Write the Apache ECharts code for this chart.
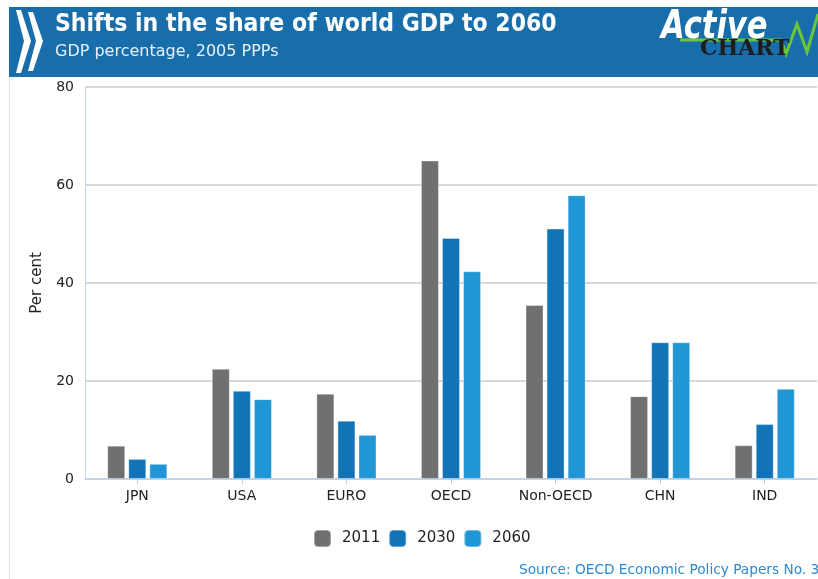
<!DOCTYPE html>
<html>
<head>
<meta charset="utf-8">
<script src="https://cdn.jsdelivr.net/npm/echarts@6/dist/echarts.min.js"></script>
<style>
html,body{margin:0;padding:0;background:#fff;}
#chart{width:818px;height:579px;}
</style>
</head>
<body>
<div id="chart"></div>
<script>
var categories = ['JPN', 'USA', 'EURO', 'OECD', 'Non-OECD', 'CHN', 'IND'];
var seriesNames = ['2011', '2030', '2060'];
var values2011 = [6.8, 22.5, 17.4, 65.0, 35.5, 16.9, 6.9];
var values2030 = [4.1, 18.0, 11.9, 49.2, 51.1, 27.9, 11.2];
var values2060 = [3.1, 16.3, 9.0, 42.4, 57.9, 27.9, 18.4];
var yTicks = [0, 20, 40, 60, 80];
var colors = ['#707070', '#1174b7', '#2196d4'];

var chart = echarts.init(document.getElementById('chart'), null, {renderer: 'canvas'});
var font = 'DejaVu Sans';
function bar(name, data, color) {
  return {
    name: name, type: 'bar', data: data, barWidth: 18, barGap: '17%',
    itemStyle: {color: color, borderColor: 'rgba(255,255,255,0.35)', borderWidth: 1},
    emphasis: {disabled: true}
  };
}
chart.setOption({
  animation: false,
  backgroundColor: '#ffffff',
  textStyle: {fontFamily: font},
  grid: {left: 85, right: 1, top: 87, bottom: 100, containLabel: false},
  legend: {
    data: seriesNames, left: 308, top: 524, itemWidth: 17, itemHeight: 17, itemGap: 8,
    icon: 'roundRect',
    textStyle: {fontSize: 15, color: '#222', fontFamily: font, padding: [0, 0, 0, 6]}
  },
  xAxis: {
    type: 'category', data: categories,
    axisLine: {show: true, lineStyle: {color: '#b9d2ea', width: 1.5}},
    axisTick: {show: true, alignWithLabel: true, length: 5, lineStyle: {color: '#b9d2ea'}},
    axisLabel: {fontSize: 14, color: '#222', margin: 10, fontFamily: font},
    splitLine: {show: false}
  },
  yAxis: {
    type: 'value', min: 0, max: 80, interval: 20,
    name: 'Per cent', nameLocation: 'middle', nameGap: 40, nameRotate: 90,
    nameTextStyle: {fontSize: 15, color: '#222', fontFamily: font},
    axisLine: {show: true, lineStyle: {color: '#c5daee', width: 1}},
    axisTick: {show: false},
    axisLabel: {fontSize: 14, color: '#222', margin: 11, fontFamily: font,
      formatter: function (v) { return yTicks.indexOf(v) >= 0 ? String(v) : ''; }},
    splitLine: {show: true, lineStyle: {color: '#cccccc', width: 1.5}}
  },
  series: [
    bar(seriesNames[0], values2011, colors[0]),
    bar(seriesNames[1], values2030, colors[1]),
    bar(seriesNames[2], values2060, colors[2])
  ],
  graphic: [
    {type: 'rect', shape: {x: 9.5, y: 76, width: 820, height: 520}, silent: true,
      style: {fill: 'none', stroke: '#e2e2e2', lineWidth: 1}, z: -1},
    {type: 'rect', shape: {x: 9, y: 7, width: 809, height: 70}, silent: true,
      style: {fill: '#176eab'}, z: 0},
    {type: 'polygon', silent: true, z: 1,
      shape: {points: [[16,10],[21,10],[31,41],[21,73],[16,73],[24,41]]},
      style: {fill: '#ffffff'}},
    {type: 'polygon', silent: true, z: 1,
      shape: {points: [[28,12],[33,12],[43,41],[33,71],[28,71],[36,41]]},
      style: {fill: '#ffffff'}},
    {type: 'text', left: 55, top: 12, silent: true, z: 2,
      style: {text: 'Shifts in the share of world GDP to 2060', fill: '#ffffff',
        font: 'bold 24.5px "DejaVu Sans Condensed", "DejaVu Sans", sans-serif'}},
    {type: 'text', left: 55, top: 44, silent: true, z: 2,
      style: {text: 'GDP percentage, 2005 PPPs', fill: '#e8f1f8',
        font: '16px "DejaVu Sans", sans-serif'}},
    {type: 'polyline', silent: true, z: 2,
      shape: {points: [[680,40],[781,40],[786,54],[797,24],[807,52],[818,14]]},
      style: {stroke: '#6cc43a', lineWidth: 3, fill: 'none'}},
    {type: 'text', x: 661, y: 8, scaleY: 1.15, silent: true, z: 3,
      style: {text: 'Active', fill: '#ffffff',
        font: 'italic bold 34px "DejaVu Sans Condensed", "DejaVu Sans", sans-serif'}},
    {type: 'text', left: 700, top: 38, silent: true, z: 3,
      style: {text: 'CHART', fill: '#1d1d1d',
        font: 'bold 22px "DejaVu Serif", "Liberation Serif", serif'}},
    {type: 'text', left: 519, top: 563, silent: true, z: 2,
      style: {text: 'Source: OECD Economic Policy Papers No. 3', fill: '#2c8ad0',
        font: '13.7px "DejaVu Sans", sans-serif'}}
  ]
});
</script>
</body>
</html>
